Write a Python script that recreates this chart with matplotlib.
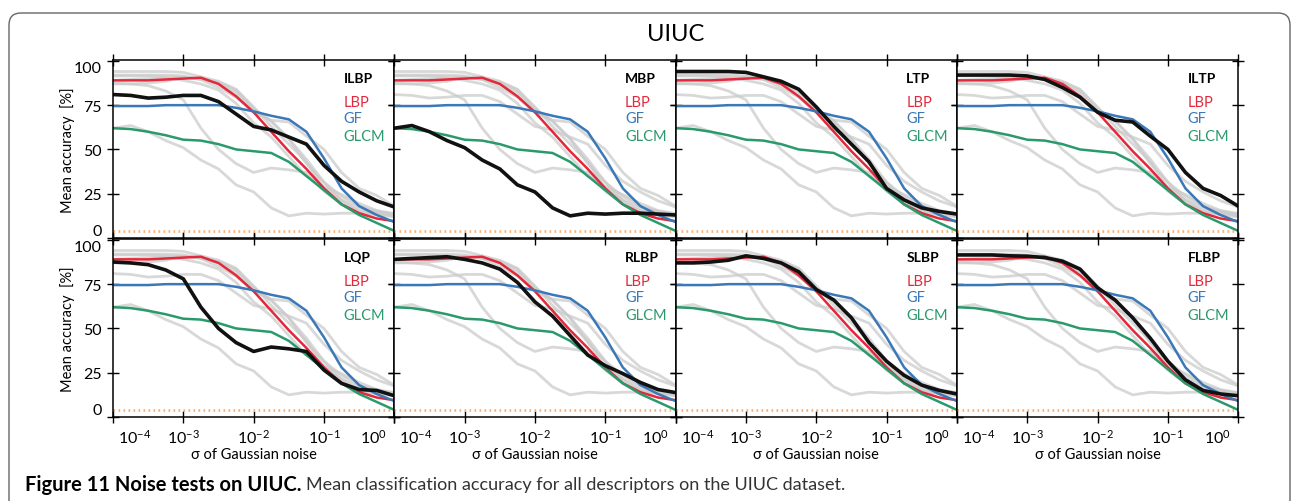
import matplotlib
matplotlib.use('Agg')
import matplotlib.pyplot as plt
from matplotlib.patches import FancyBboxPatch
from matplotlib.ticker import NullLocator
from matplotlib.transforms import ScaledTranslation
import numpy as np

plt.rcParams['font.family'] = ['Lato', 'DejaVu Sans']
plt.rcParams['mathtext.fontset'] = 'custom'
plt.rcParams['mathtext.rm'] = 'Lato'
plt.rcParams['mathtext.default'] = 'regular'
plt.rcParams['axes.unicode_minus'] = False

# noise level, as log10(sigma)
log_sigma = [-4, -3.75, -3.5, -3.25, -3, -2.75, -2.5, -2.25, -2,
             -1.75, -1.5, -1.25, -1, -0.75, -0.5, -0.25, 0]

# reference descriptors (same in every panel)
lbp = [89, 89, 89, 89.5, 90, 90.5, 87, 80, 71, 60, 49, 39, 28, 19, 14, 11, 9.5]
gf = [74.5, 74.5, 74.5, 75, 75, 75, 75, 73.5, 71.5, 69, 67, 60, 45, 28, 18, 13, 9]
glcm = [62, 61.5, 60, 58, 55.5, 55, 53, 50, 49, 48, 43, 35, 27, 19, 13, 8.5, 4]
chance = 4

# tested descriptors
ilbp = [81, 80.5, 79, 79.5, 80.5, 80.5, 77, 70, 63, 61, 57, 53, 41, 32, 26, 21, 17.5]
mbp = [62, 63.5, 60, 55, 51, 44, 39, 30, 26, 17, 12.5, 14, 13.5, 14, 14, 13.5, 13]
ltp = [94, 94, 94, 94, 93.5, 91, 88.5, 84, 74, 63, 53, 43, 28, 21.5, 17, 15, 13.5]
iltp = [92, 92, 92, 92, 91.5, 89.5, 85, 79.5, 71, 66.5, 65.5, 57.5, 50, 37, 28, 24, 18]
lqp = [87.5, 87, 86, 83, 78, 62, 50, 42, 37, 39.5, 38.5, 37, 26.5, 19, 15.5, 15, 12]
rlbp = [89, 89.5, 90, 90.5, 89, 87, 83.5, 76, 65, 57, 46, 35, 29, 24.5, 19.5, 15.5, 13.8]
slbp = [87, 87, 87.5, 88.5, 91, 89.5, 87, 82, 72, 66, 56, 42, 31.5, 23.5, 18, 15, 13]
flbp = [91.5, 91.5, 91.5, 91, 90.8, 90, 88, 83.5, 73, 66, 56, 44.5, 31.5, 21, 15, 13, 12]

names = ['ILBP', 'MBP', 'LTP', 'ILTP', 'LQP', 'RLBP', 'SLBP', 'FLBP']
curves = [ilbp, mbp, ltp, iltp, lqp, rlbp, slbp, flbp]

RED = '#e2283a'
BLUE = '#3a78b8'
GREEN = '#2a9a6c'

W, H = 1292, 502
fig = plt.figure(figsize=(W / 100, H / 100), dpi=100)

# rounded frame around the figure
frame = FancyBboxPatch((0.09, -0.6), 12.81, 5.55 - 0.07,
                       boxstyle='round,pad=0,rounding_size=0.12',
                       transform=fig.dpi_scale_trans, fill=False,
                       ec='#666666', lw=1.0)
fig.patches.append(frame)

sigma = 10.0 ** np.array(log_sigma)

for i in range(len(names)):

    row = i // 4
    col = i % 4

    left = (113 + col * 281.3) / W
    bottom = (1 - 239 / H) if row == 0 else (1 - 418 / H)
    ax = fig.add_axes([left, bottom, 281.3 / W, 178 / H])

    # other descriptors in grey
    for j in range(len(names)):
        if j != i:
            ax.plot(sigma, curves[j], color='#cbcbcb', lw=2, alpha=0.75,
                    solid_capstyle='round')

    ax.axhline(chance, color='#f4b27a', lw=2, linestyle=(0, (0.6, 1.2)))

    ax.plot(sigma, lbp, color=RED, lw=1.8)
    ax.plot(sigma, gf, color=BLUE, lw=1.8)
    ax.plot(sigma, glcm, color=GREEN, lw=1.8)
    ax.plot(sigma, curves[i], color='#111111', lw=2.6)

    ax.set_xscale('log')
    ax.set_xlim(1e-4, 1)
    ax.set_ylim(0, 100.5)

    ax.set_xticks([1e-4, 1e-3, 1e-2, 1e-1, 1])
    ax.xaxis.set_minor_locator(NullLocator())
    ax.set_yticks([0, 25, 50, 75, 100])

    ax.tick_params(which='both', direction='inout', length=8, width=1,
                   top=True, right=True, labelsize=11.5, pad=4)

    for s in ax.spines.values():
        s.set_linewidth(1.1)
        s.set_color('black')

    if row == 1:
        xl = ax.set_xticklabels([r'$10^{-4}$', r'$10^{-3}$', r'$10^{-2}$',
                                 r'$10^{-1}$', r'$10^{0}$'])
        xl[0].set_horizontalalignment('left')
        xl[0].set_transform(xl[0].get_transform() +
                            ScaledTranslation(5 / 100, 0, fig.dpi_scale_trans))
        xl[-1].set_horizontalalignment('right')
        xl[-1].set_transform(xl[-1].get_transform() +
                             ScaledTranslation(-7 / 100, 0, fig.dpi_scale_trans))
        ax.set_xlabel('σ of Gaussian noise', fontsize=10.5, labelpad=1)
    else:
        ax.set_xticklabels([])

    if col == 0:
        yl = ax.set_yticklabels(['0', '25', '50', '75', '100'])
        yl[0].set_verticalalignment('bottom')
        yl[-1].set_verticalalignment('top')
        ax.set_ylabel('Mean accuracy  [%]', fontsize=10.5, labelpad=-1)
    else:
        ax.set_yticklabels([])

    ax.text(0.82, 0.90, names[i], transform=ax.transAxes, fontsize=10,
            fontweight='bold', va='center', ha='left')
    ax.text(0.82, 0.762, 'LBP', transform=ax.transAxes, fontsize=10.5,
            color=RED, va='center', ha='left')
    ax.text(0.82, 0.672, 'GF', transform=ax.transAxes, fontsize=10.5,
            color=BLUE, va='center', ha='left')
    ax.text(0.82, 0.574, 'GLCM', transform=ax.transAxes, fontsize=10.5,
            color=GREEN, va='center', ha='left')

fig.text(676 / W, 1 - 35 / H, 'UIUC', fontsize=17, ha='center', va='center')

# caption: bold part then regular part
cap_y = 1 - 485 / H
bold = fig.text(25 / W, cap_y, 'Figure 11 Noise tests on UIUC.',
                fontsize=14.5, fontweight='bold', va='center', ha='left')
fig.canvas.draw()
bb = bold.get_window_extent(renderer=fig.canvas.get_renderer())
fig.text((bb.x1 + 5) / W, cap_y,
         'Mean classification accuracy for all descriptors on the UIUC dataset.',
         fontsize=13, color='#333333', va='center', ha='left')

fig.savefig('out.png', dpi=100)
